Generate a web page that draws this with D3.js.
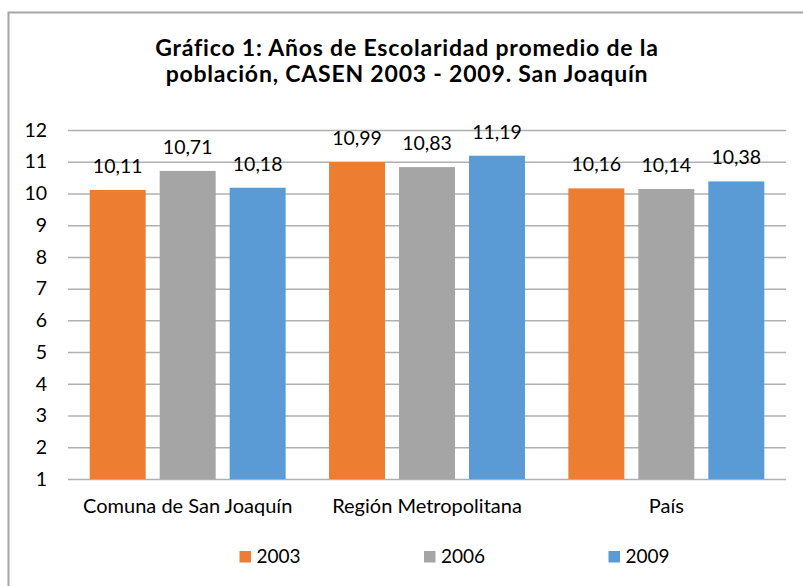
<!DOCTYPE html>
<html>
<head>
<meta charset="utf-8">
<script src="https://cdn.jsdelivr.net/npm/d3@7"></script>
<style>
  html, body { margin: 0; padding: 0; background: #fff; }
  text { font-family: Lato, "Open Sans", sans-serif; fill: #000; }
</style>
</head>
<body>
<div id="chart"></div>
<script>
// data
const categories = ["Comuna de San Joaquín", "Región Metropolitana", "País"];
const seriesNames = ["2003", "2006", "2009"];
const values2003 = [10.11, 10.99, 10.16];
const values2006 = [10.71, 10.83, 10.14];
const values2009 = [10.18, 11.19, 10.38];
const yTicks = [1, 2, 3, 4, 5, 6, 7, 8, 9, 10, 11, 12];
const titleLines = ["Gráfico 1: Años de Escolaridad promedio de la", "población, CASEN 2003 - 2009. San Joaquín"];

const colors = { "2003": "#ED7D31", "2006": "#A5A5A5", "2009": "#5B9BD5" };
const seriesValues = { "2003": values2003, "2006": values2006, "2009": values2009 };

const width = 803, height = 586;
const plot = { left: 68, right: 786, top: 130, bottom: 479 };

const svg = d3.select('#chart').append('svg')
  .attr('width', width)
  .attr('height', height);

// chart frame (runs off the right and bottom of the picture)
svg.append('rect')
  .attr('x', 8.5).attr('y', 12.5)
  .attr('width', 820).attr('height', 600)
  .attr('fill', '#fff')
  .attr('stroke', '#a6a6a6')
  .attr('stroke-width', 2);

// title
svg.append('text')
  .attr('text-anchor', 'middle')
  .attr('font-weight', 'bold')
  .attr('font-size', 23)
  .attr('letter-spacing', 0.8)
  .selectAll('tspan')
  .data(titleLines)
  .enter().append('tspan')
  .attr('x', 407)
  .attr('y', (d, i) => 56 + i * 26)
  .text(d => d);

const x0 = d3.scaleBand()
  .domain(categories)
  .range([plot.left, plot.right])
  .padding(0);

const x1 = d3.scaleBand()
  .domain(seriesNames)
  .range([0, x0.bandwidth()])
  .paddingInner(0.2)
  .paddingOuter(0.31);

const y = d3.scaleLinear()
  .domain([1, 12])
  .range([plot.bottom, plot.top]);

// gridlines + y tick labels
const yAxis = svg.append('g')
  .attr('transform', `translate(${plot.left},0)`)
  .call(d3.axisLeft(y).tickValues(yTicks).tickSizeInner(-(plot.right - plot.left)).tickSizeOuter(0).tickPadding(21));
yAxis.select('.domain').remove();
yAxis.selectAll('line').attr('stroke', '#b0b0b0').attr('stroke-width', 1.5);
yAxis.selectAll('text').attr('font-size', 19.5).attr('font-family', null);

// bars
const groups = svg.selectAll('.group')
  .data(categories)
  .enter().append('g')
  .attr('class', 'group')
  .attr('transform', d => `translate(${x0(d)},0)`);

groups.selectAll('rect')
  .data((c, ci) => seriesNames.map(s => ({ s, v: seriesValues[s][ci] })))
  .enter().append('rect')
  .attr('x', d => x1(d.s))
  .attr('y', d => y(d.v))
  .attr('width', x1.bandwidth())
  .attr('height', d => y(1) - y(d.v))
  .attr('fill', d => colors[d.s]);

// value labels
groups.selectAll('.val')
  .data((c, ci) => seriesNames.map(s => ({ s, v: seriesValues[s][ci] })))
  .enter().append('text')
  .attr('class', 'val')
  .attr('x', d => x1(d.s) + x1.bandwidth() / 2)
  .attr('y', d => y(d.v) - 17)
  .attr('text-anchor', 'middle')
  .attr('font-size', 19.5)
  .text(d => d.v.toFixed(2).replace('.', ','));

// category axis
const xAxis = svg.append('g')
  .attr('transform', `translate(0,${plot.bottom})`)
  .call(d3.axisBottom(x0).tickSize(0).tickPadding(20));
xAxis.select('.domain').remove();
xAxis.selectAll('text').attr('font-size', 20).attr('font-family', null);

// legend
const legend = svg.selectAll('.legend')
  .data(seriesNames)
  .enter().append('g')
  .attr('class', 'legend')
  .attr('transform', (d, i) => `translate(${239.5 + i * 184.5},551)`);
legend.append('rect')
  .attr('width', 11.5).attr('height', 11.5)
  .attr('fill', d => colors[d]);
legend.append('text')
  .attr('x', 17).attr('y', 11.8)
  .attr('font-size', 19)
  .text(d => d);
</script>
</body>
</html>
